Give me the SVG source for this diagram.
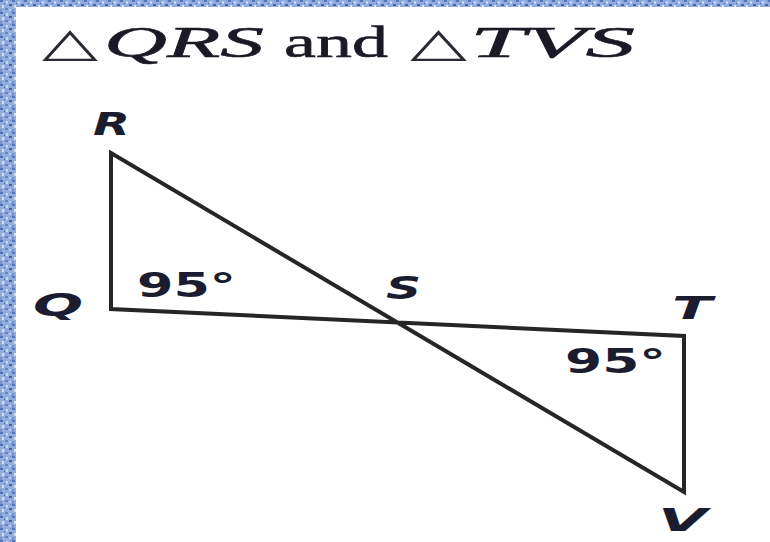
<svg xmlns="http://www.w3.org/2000/svg" width="770" height="542" viewBox="0 0 770 542">
  <defs>
    <pattern id="noise" width="12" height="12" patternUnits="userSpaceOnUse">
      <rect width="12" height="12" fill="#93acdf"/>
      <rect x="0" y="0" width="3" height="2" fill="#5676bb"/>
      <rect x="6" y="1" width="2" height="3" fill="#c4d3f0"/>
      <rect x="9" y="4" width="3" height="2" fill="#4465ab"/>
      <rect x="2" y="5" width="2" height="3" fill="#d2def4"/>
      <rect x="5" y="8" width="3" height="2" fill="#6483c3"/>
      <rect x="0" y="9" width="2" height="3" fill="#7592cb"/>
      <rect x="9" y="9" width="2" height="2" fill="#bccbec"/>
      <rect x="4" y="3" width="1" height="1" fill="#3a5aa2"/>
      <rect x="10" y="0" width="2" height="1" fill="#7f9ad2"/>
    </pattern>
    <style>
      .title { font-family: "Liberation Serif", "Times New Roman", serif; font-size: 45px; fill: #1a1a26; stroke: #1a1a26; stroke-width: 0.6px; }
      .it { font-style: italic; }
      .tri { font-family: "DejaVu Sans", sans-serif; font-size: 40px; fill: #2a2a35; }
      .lbl { font-family: "DejaVu Sans", Verdana, sans-serif; font-weight: bold; font-style: italic; font-size: 32px; fill: #1c1c30; }
      .ang { font-family: "DejaVu Sans", Verdana, sans-serif; font-weight: bold; font-size: 33px; fill: #1c1c30; }
      .edge { fill: none; stroke: #262626; stroke-width: 4; stroke-linejoin: miter; }
    </style>
  </defs>
  <rect width="770" height="542" fill="#ffffff"/>
  <rect x="0" y="0" width="770" height="7" fill="url(#noise)"/>
  <rect x="0" y="0" width="16" height="542" fill="url(#noise)"/>

  <g id="title">
    <text class="tri" x="42" y="56" textLength="56" lengthAdjust="spacingAndGlyphs">△</text>
    <text class="title it" x="104" y="57" textLength="160" lengthAdjust="spacingAndGlyphs">QRS</text>
    <text class="title" x="284" y="57" textLength="104" lengthAdjust="spacingAndGlyphs">and</text>
    <text class="tri" x="410" y="56" textLength="57" lengthAdjust="spacingAndGlyphs">△</text>
    <text class="title it" x="470" y="57" textLength="165" lengthAdjust="spacingAndGlyphs">TVS</text>
  </g>

  <g id="connectors">
    <path class="edge" d="M111,309 L111,153 L684,492 L684,336 Z"/>
  </g>

  <g id="node-R"><text class="lbl" x="93" y="135" textLength="37" lengthAdjust="spacingAndGlyphs">R</text></g>
  <g id="node-Q"><text class="lbl" x="33" y="316" textLength="50" lengthAdjust="spacingAndGlyphs">Q</text></g>
  <g id="node-S"><text class="lbl" x="386" y="299" textLength="35" lengthAdjust="spacingAndGlyphs">S</text></g>
  <g id="node-T"><text class="lbl" x="672" y="319" textLength="40" lengthAdjust="spacingAndGlyphs">T</text></g>
  <g id="node-V"><text class="lbl" x="658" y="531" textLength="49" lengthAdjust="spacingAndGlyphs">V</text></g>

  <g id="angle-Q"><text class="ang" x="137" y="297" textLength="99" lengthAdjust="spacingAndGlyphs">95°</text></g>
  <g id="angle-T"><text class="ang" x="565" y="373" textLength="101" lengthAdjust="spacingAndGlyphs">95°</text></g>
</svg>
